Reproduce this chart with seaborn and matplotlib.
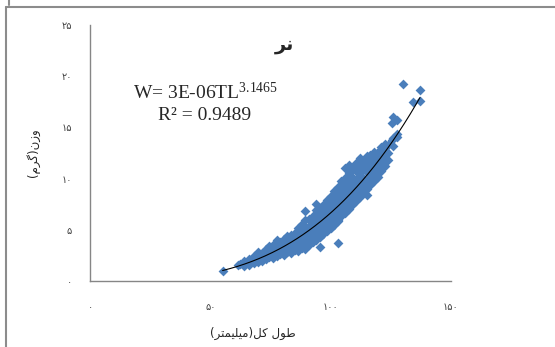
import numpy as np
import matplotlib
matplotlib.use("Agg")
import matplotlib.pyplot as plt
import seaborn as sns
from matplotlib.lines import Line2D

# total length (mm) and weight (g)
tl = [55.1, 61.5, 62.5,
      64, 64, 64, 66, 66, 66, 68, 68, 68,
      70, 70, 70, 70, 71.5, 71.5, 71.5,
      73, 73, 73, 73, 74.5, 74.5, 74.5, 74.5,
      76, 76, 76, 76, 77.5, 77.5, 77.5, 77.5, 77.5,
      79, 79, 79, 79, 80.5, 80.5, 80.5, 80.5, 80.5,
      82, 82, 82, 82, 82, 83.5, 83.5, 83.5, 83.5, 83.5,
      85, 85, 85, 85, 85, 86.5, 86.5, 86.5, 86.5, 86.5, 86.5,
      88, 88, 88, 88, 88, 88, 89.5, 89.5, 89.5, 89.5, 89.5, 89.5, 89.5,
      91, 91, 91, 91, 91, 91, 92.5, 92.5, 92.5, 92.5, 92.5, 92.5,
      94, 94, 94, 94, 94, 94, 94, 95.6, 95.6, 95.6, 95.6, 95.6, 95.6, 95.6,
      97, 97, 97, 97, 97, 97, 98.5, 98.5, 98.5, 98.5, 98.5, 98.5,
      100, 100, 100, 100, 100, 100, 101.5, 101.5, 101.5, 101.5, 101.5, 101.5,
      103, 103, 103, 103, 103, 103, 103, 103,
      104.5, 104.5, 104.5, 104.5, 104.5, 104.5,
      106, 106, 106, 106, 106, 106, 106, 107.5, 107.5, 107.5, 107.5, 107.5, 107.5, 107.5,
      109, 109, 109, 109, 109, 109, 110.5, 110.5, 110.5, 110.5, 110.5, 110.5,
      112, 112, 112, 112, 112, 112, 113.5, 113.5, 113.5, 113.5, 113.5,
      115, 115, 115, 115, 115, 115, 116.5, 116.5, 116.5, 116.5, 116.5,
      118, 118, 118, 118, 118, 119.5, 119.5, 119.5, 119.5,
      121, 121, 121, 121, 122.5, 122.5, 122.5, 122.5, 124, 124, 124,
      125.3, 125.3, 126, 126, 126, 127.4, 127.4, 127.4,
      130.2, 134.3, 137.1, 137.1]
w = [1.0, 1.6, 1.7,
     1.5, 1.8, 2.0, 1.6, 1.9, 2.1, 1.8, 2.1, 2.4,
     1.9, 2.2, 2.5, 2.8, 2.0, 2.4, 2.7,
     2.1, 2.5, 2.9, 3.1, 2.3, 2.6, 3.0, 3.4,
     2.2, 2.7, 3.1, 3.5, 2.4, 2.8, 3.2, 3.7, 4.0,
     2.6, 3.0, 3.4, 3.8, 2.5, 2.9, 3.3, 3.6, 4.1,
     2.8, 3.2, 3.5, 3.9, 4.4, 2.7, 3.1, 3.6, 4.0, 4.5,
     3.0, 3.4, 3.8, 4.2, 4.7, 2.9, 3.3, 3.7, 4.3, 4.9, 5.2,
     3.2, 3.6, 4.0, 4.5, 5.0, 5.6, 3.1, 3.7, 4.1, 4.6, 5.3, 6.0, 6.8,
     3.5, 3.9, 4.4, 4.9, 5.4, 6.1, 3.8, 4.2, 4.7, 5.1, 5.7, 6.3,
     4.0, 4.5, 5.0, 5.6, 6.2, 6.9, 7.5, 3.3, 4.3, 4.8, 5.3, 5.9, 6.5, 7.1,
     4.6, 5.1, 5.6, 6.2, 6.8, 7.4, 4.9, 5.4, 6.0, 6.6, 7.2, 7.9,
     5.2, 5.8, 6.3, 6.9, 7.6, 8.3, 5.5, 6.1, 6.7, 7.3, 8.0, 8.8,
     3.7, 6.0, 5.9, 6.5, 7.1, 7.8, 8.5, 9.2,
     6.3, 6.9, 7.6, 8.3, 9.0, 9.8,
     6.6, 7.2, 7.9, 8.6, 9.4, 10.1, 11.0, 7.0, 7.7, 8.4, 9.1, 9.8, 10.5, 11.3,
     7.4, 8.1, 8.8, 9.5, 10.2, 11.0, 7.8, 8.5, 9.2, 9.9, 10.7, 11.5,
     8.2, 8.9, 9.6, 10.4, 11.2, 12.0, 8.6, 9.4, 10.1, 10.9, 11.7,
     8.4, 9.0, 9.8, 10.6, 11.4, 12.2, 9.4, 10.2, 11.0, 11.8, 12.3,
     9.8, 10.6, 11.4, 12.2, 12.6, 10.2, 11.0, 11.8, 12.6,
     10.7, 11.5, 12.3, 13.1, 11.2, 12.0, 12.8, 13.4, 11.8, 12.5, 13.3,
     13.8, 15.4, 13.2, 14.0, 16.0, 14.1, 14.4, 15.7,
     19.2, 17.5, 18.7, 17.6]

x_ticks = [0, 50, 100, 150]
x_labels = ['۰', '۵۰', '۱۰۰', '۱۵۰']
y_ticks = [0, 5, 10, 15, 20, 25]
y_labels = ['۰', '۵', '۱۰', '۱۵', '۲۰', '۲۵']

title = 'نر'
x_title = 'طول کل(میلیمتر)'
y_title = 'وزن(گرم)'
eq_text = 'W= 3E-06TL$^{3.1465}$'
r2_text = 'R² = 0.9489'

# matplotlib has no arabic shaping: pick presentation forms by hand, then reverse
FORMS = {  # isolated, final, initial, medial
    'ط': '\uFEC1\uFEC2\uFEC3\uFEC4', 'ت': '\uFE95\uFE96\uFE97\uFE98',
    'م': '\uFEE1\uFEE2\uFEE3\uFEE4', 'ن': '\uFEE5\uFEE6\uFEE7\uFEE8',
    'ل': '\uFEDD\uFEDE\uFEDF\uFEE0', 'ی': '\uFBFC\uFBFD\uFBFE\uFBFF',
    'ک': '\uFB8E\uFB8F\uFB90\uFB91', 'گ': '\uFB92\uFB93\uFB94\uFB95',
    'ر': '\uFEAD\uFEAE', 'ز': '\uFEAF\uFEB0', 'و': '\uFEED\uFEEE',
}


def shape(s):
    out = []
    for i, c in enumerate(s):
        if c not in FORMS:
            out.append(c)
            continue
        prev = s[i - 1] if i > 0 else ''
        nxt = s[i + 1] if i + 1 < len(s) else ''
        jp = prev in FORMS and len(FORMS[prev]) == 4
        jn = len(FORMS[c]) == 4 and nxt in FORMS
        f = FORMS[c]
        if jp and jn:
            out.append(f[3])
        elif jp:
            out.append(f[1])
        elif jn:
            out.append(f[2])
        else:
            out.append(f[0])
    vis = ''.join(reversed(out))
    return vis.translate(str.maketrans('()', ')('))


sns.set_style('white')
plt.rcParams['font.family'] = ['DejaVu Sans']
plt.rcParams['mathtext.fontset'] = 'custom'
plt.rcParams['mathtext.rm'] = 'Liberation Serif'
plt.rcParams['mathtext.it'] = 'Liberation Serif'

W, H = 555, 347
fig = plt.figure(figsize=(5.55, 3.47), dpi=100)
ax = fig.add_axes([90 / W, 1 - 281 / H, 361 / W, 256 / H])

sns.scatterplot(x=tl, y=w, marker='D', s=25, color='#4A7EBB',
                linewidth=0, ax=ax, zorder=2)

# power trend line, least squares in log-log like excel
b, loga = np.polyfit(np.log(tl), np.log(w), 1)
xs = np.linspace(min(tl), max(tl), 200)
ax.plot(xs, np.exp(loga) * xs ** b, color='black', lw=0.8, zorder=3)

ax.set_xlim(0, 150)
ax.set_ylim(0, 25)
ax.set_xticks(x_ticks)
ax.set_xticklabels(x_labels)
ax.set_yticks(y_ticks)
ax.set_yticklabels(y_labels)
for side in ['top', 'right']:
    ax.spines[side].set_visible(False)
for side in ['left', 'bottom']:
    ax.spines[side].set_color('#868686')
    ax.spines[side].set_linewidth(1)
ax.tick_params(axis='both', direction='out', length=5, width=1,
               color='#868686', labelsize=7, labelcolor='#404040')
ax.tick_params(axis='x', pad=10)
ax.tick_params(axis='y', pad=8)
ax.set_xlabel('')
ax.set_ylabel('')

fig.text(285 / W, 1 - 44 / H, shape(title), ha='center', va='center',
         fontsize=14, fontweight='bold')
fig.text(253 / W, 1 - 333 / H, shape(x_title), ha='center', va='center',
         fontsize=8.5)
fig.text(33 / W, 1 - 153 / H, shape(y_title), ha='center', va='center',
         fontsize=8.5, rotation=90)
fig.text(205 / W, 1 - 93 / H, eq_text, ha='center', va='center',
         fontsize=14, family='Liberation Serif')
fig.text(205 / W, 1 - 115 / H, r2_text, ha='center', va='center',
         fontsize=14, family='Liberation Serif')

# chart area border (cropped)
for xy in [([6, W], [7, 7]), ([6, 6], [7, H]), ([8.5, 8.5], [0, 5])]:
    fig.add_artist(Line2D([v / W for v in xy[0]], [1 - v / H for v in xy[1]],
                          color='#8c8c8c', lw=1.5, transform=fig.transFigure))

fig.savefig('out.png', dpi=100)
